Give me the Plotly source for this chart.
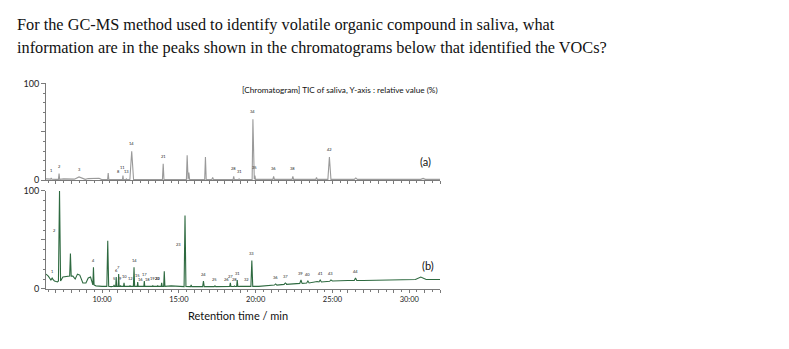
import plotly.graph_objects as go

W, H = 789, 349

question_lines = [
    "For the GC-MS method used to identify volatile organic compound in saliva, what",
    "information are in the peaks shown in the chromatograms below that identified the VOCs?",
]
chart_title = "[Chromatogram] TIC of saliva, Y-axis : relative value (%)"
x_title = "Retention time / min"
x_tick_vals = [10, 15, 20, 25, 30]
x_tick_text = ["10:00", "15:00", "20:00", "25:00", "30:00"]

# ---- panel (a) data ----
base_a_t = [6.35, 6.55, 7.0, 7.5, 7.9, 8.15, 8.9, 9.1, 9.3, 9.8, 9.95, 10.2, 11.0, 12.4, 14.5, 17.5, 20.5, 23.0, 26.0, 29.0, 32.0]
base_a_v = [1.5, 1.2, 1.0, 1.5, 1.2, 1.0, 1.0, 1.8, 2.0, 2.2, 1.0, 0.8, 0.8, 0.8, 0.8, 0.8, 1.0, 1.0, 1.0, 1.0, 1.0]
pk_a_t = [6.69, 7.2, 8.5, 10.4, 11.08, 11.36, 11.58, 11.93, 13.98, 15.54, 15.65, 16.73, 17.2, 18.57, 18.92, 19.82, 19.95, 21.17, 22.42, 23.96, 24.8, 26.52, 30.9]
pk_a_h = [2.5, 7.0, 3.5, 7.5, 1.5, 5.0, 1.5, 30.0, 17.0, 26.0, 8.0, 24.0, 3.0, 4.0, 1.5, 63.0, 5.0, 4.0, 4.0, 3.0, 24.0, 2.5, 2.0]
pk_a_w = [0.04, 0.04, 0.3, 0.04, 0.03, 0.03, 0.03, 0.12, 0.05, 0.05, 0.05, 0.05, 0.05, 0.04, 0.04, 0.05, 0.04, 0.05, 0.05, 0.05, 0.1, 0.1, 0.15]
pk_a_b = [1.2, 1.0, 1.2, 0.8, 0.8, 0.8, 0.8, 0.8, 0.8, 0.8, 0.8, 0.8, 0.8, 0.8, 0.8, 1.0, 1.0, 1.0, 1.0, 1.0, 1.0, 1.0, 1.0]
pk_a_lab = ["1", "2", "3", "", "8", "11", "13", "14", "21", "", "", "", "", "28", "31", "34", "35", "36", "38", "", "42", "", ""]

# ---- panel (b) data ----
base_b_t = [6.35, 6.5, 6.9, 7.1, 7.45, 7.7, 8.1, 8.25, 8.4, 8.55, 8.75, 8.95, 9.1, 9.25, 9.6, 10.0, 10.6, 12.0, 13.5, 14.5, 15.1, 16.0, 17.5, 19.0, 20.2, 21.0, 22.0, 23.0, 24.0, 25.0, 26.0, 27.0, 28.0, 29.0, 30.4, 30.75, 31.1, 32.0]
base_b_v = [15, 13, 8, 7, 12, 13, 13, 10, 15, 14, 6, 6, 11, 12, 3, 2.5, 2.2, 2.5, 2.5, 3, 2.2, 2.2, 2.2, 2.5, 2.5, 3, 5, 6.5, 7.5, 8, 8.5, 8.5, 9, 9.5, 9.5, 12, 9.5, 9.5]
pk_b_t = [6.75, 7.23, 7.94, 9.44, 10.37, 10.78, 10.92, 11.08, 11.2, 11.43, 11.82, 12.08, 12.32, 12.53, 12.75, 12.97, 13.3, 13.62, 13.88, 14.05, 15.4, 15.8, 16.6, 17.35, 18.1, 18.35, 18.62, 18.8, 19.43, 19.75, 21.3, 21.93, 22.95, 23.4, 24.2, 24.9, 26.5]
pk_b_h = [11, 100, 36, 22, 49, 4, 12, 15, 3.5, 6, 3.5, 22, 7, 3, 8, 2.5, 3.5, 3.5, 6, 18, 75, 4, 8, 3, 2.5, 6, 2.8, 9, 3, 29, 5, 6, 9, 8, 9, 9, 11]
pk_b_w = [0.08, 0.07, 0.05, 0.04, 0.06, 0.03, 0.03, 0.03, 0.03, 0.03, 0.03, 0.04, 0.03, 0.03, 0.03, 0.03, 0.03, 0.03, 0.03, 0.04, 0.06, 0.04, 0.05, 0.05, 0.05, 0.04, 0.04, 0.04, 0.05, 0.06, 0.08, 0.08, 0.08, 0.08, 0.08, 0.08, 0.08]
pk_b_b = [9, 8, 13, 4, 2.5, 2.5, 2.5, 2.5, 2.5, 2.5, 2.5, 2.5, 2.5, 2.5, 2.5, 2.5, 2.5, 2.5, 2.5, 2.5, 2.3, 2.2, 2.2, 2.2, 2.3, 2.3, 2.3, 2.4, 2.5, 2.5, 3.8, 4.5, 5.5, 6.0, 7.0, 7.7, 8.5]
pk_b_lab = ["1", "2", "", "4", "", "5", "6", "7", "9", "10", "12", "14", "15", "16", "17", "18", "19", "20", "", "22", "23", "", "24", "25", "26", "27", "28", "31", "32", "33", "36", "37", "39", "40", "41", "43", "44"]


def build(bt, bv, pt, ph, pw, pb):
    pts = list(zip(bt, bv))
    for t, h, w, b in zip(pt, ph, pw, pb):
        pts += [(t - w, b), (t, h), (t + w, b)]
    pts.sort()
    return [p[0] for p in pts], [p[1] for p in pts]


xa, ya = build(base_a_t, base_a_v, pk_a_t, pk_a_h, pk_a_w, pk_a_b)
xb, yb = build(base_b_t, base_b_v, pk_b_t, pk_b_h, pk_b_w, pk_b_b)

fig = go.Figure()
fig.add_trace(go.Scatter(x=xa, y=ya, mode="lines", line=dict(color="#9a9a9a", width=1.1),
                         xaxis="x", yaxis="y", showlegend=False, hoverinfo="skip"))
fig.add_trace(go.Scatter(x=xb, y=yb, mode="lines", line=dict(color="#2e6a40", width=1.1),
                         xaxis="x2", yaxis="y2", showlegend=False, hoverinfo="skip"))


def px_x(p):
    return p / W


def px_y(p):
    return 1 - p / H


xdom = [px_x(46), px_x(440)]
xr = [6.35, 32.0]
ya_dom = [px_y(180), px_y(80)]
yb_dom = [px_y(292), px_y(191)]

axis_col = "#7a7a7a"
tick_font = dict(family="Lato, 'Open Sans', sans-serif", size=7.5, color="#222")

common_x = dict(range=xr, domain=xdom, showgrid=False, zeroline=False, showline=True,
                linecolor=axis_col, linewidth=1, ticks="outside", ticklen=3, tickcolor=axis_col,
                tickvals=list(range(7, 33)), minor=dict(dtick=0.5, ticks="outside", ticklen=2, tickcolor=axis_col))
common_y = dict(range=[0, 100], showgrid=False, zeroline=False, showline=True, linecolor=axis_col,
                linewidth=1, ticks="outside", ticklen=4, tickcolor=axis_col,
                tickvals=[0, 50, 100], ticktext=["0", "", "100"], tickfont=dict(family="Lato, sans-serif", size=9, color="#222"),
                minor=dict(dtick=10, ticks="outside", ticklen=2, tickcolor=axis_col))

fig.update_layout(
    width=W, height=H, margin=dict(l=0, r=0, t=0, b=0),
    paper_bgcolor="white", plot_bgcolor="white",
    xaxis=dict(**common_x, anchor="y", showticklabels=False),
    yaxis=dict(**common_y, domain=ya_dom, anchor="x"),
    xaxis2=dict(**common_x, anchor="y2", ticktext=[x_tick_text[x_tick_vals.index(v)] if v in x_tick_vals else "" for v in range(7, 33)],
                tickfont=tick_font),
    yaxis2=dict(**common_y, domain=yb_dom, anchor="x2"),
)

ann = []
for i, line in enumerate(question_lines):
    ann.append(dict(text=line, xref="paper", yref="paper", x=px_x(15), y=px_y(19 + 23.5 * i),
                    xanchor="left", yanchor="middle", showarrow=False,
                    font=dict(family="Liberation Serif, 'Times New Roman', serif", size=16.3, color="#111")))
ann.append(dict(text=chart_title, xref="paper", yref="paper", x=px_x(240), y=px_y(87), xanchor="left",
                yanchor="middle", showarrow=False, font=dict(family="Lato, sans-serif", size=8.2, color="#111")))
ann.append(dict(text="(a)", xref="paper", yref="paper", x=px_x(426), y=px_y(161), xanchor="center",
                yanchor="middle", showarrow=False, font=dict(family="Lato, sans-serif", size=11, color="#111")))
ann.append(dict(text="(b)", xref="paper", yref="paper", x=px_x(428), y=px_y(268), xanchor="center",
                yanchor="middle", showarrow=False, font=dict(family="Lato, sans-serif", size=11, color="#111")))
ann.append(dict(text=x_title, xref="paper", yref="paper", x=px_x(238), y=px_y(320), xanchor="center",
                yanchor="middle", showarrow=False, font=dict(family="Lato, sans-serif", size=11, color="#111")))

lab_font = dict(family="Lato, sans-serif", size=4, color="#222")
for t, h, lab in zip(pk_a_t, pk_a_h, pk_a_lab):
    if lab:
        ann.append(dict(text=lab, x=t, y=h, xref="x", yref="y", yshift=3, showarrow=False,
                        xanchor="center", yanchor="bottom", font=lab_font))
for t, h, lab in zip(pk_b_t, pk_b_h, pk_b_lab):
    if lab:
        if lab in ("2", "23", "22"):
            ann.append(dict(text=lab, x=t, y=h * 0.6, xref="x2", yref="y2", xshift=-2, showarrow=False,
                            xanchor="right", yanchor="middle", font=lab_font))
        else:
            ann.append(dict(text=lab, x=t, y=h, xref="x2", yref="y2", yshift=2, showarrow=False,
                            xanchor="center", yanchor="bottom", font=lab_font))

fig.update_layout(annotations=ann)
fig.write_html("out.html")
